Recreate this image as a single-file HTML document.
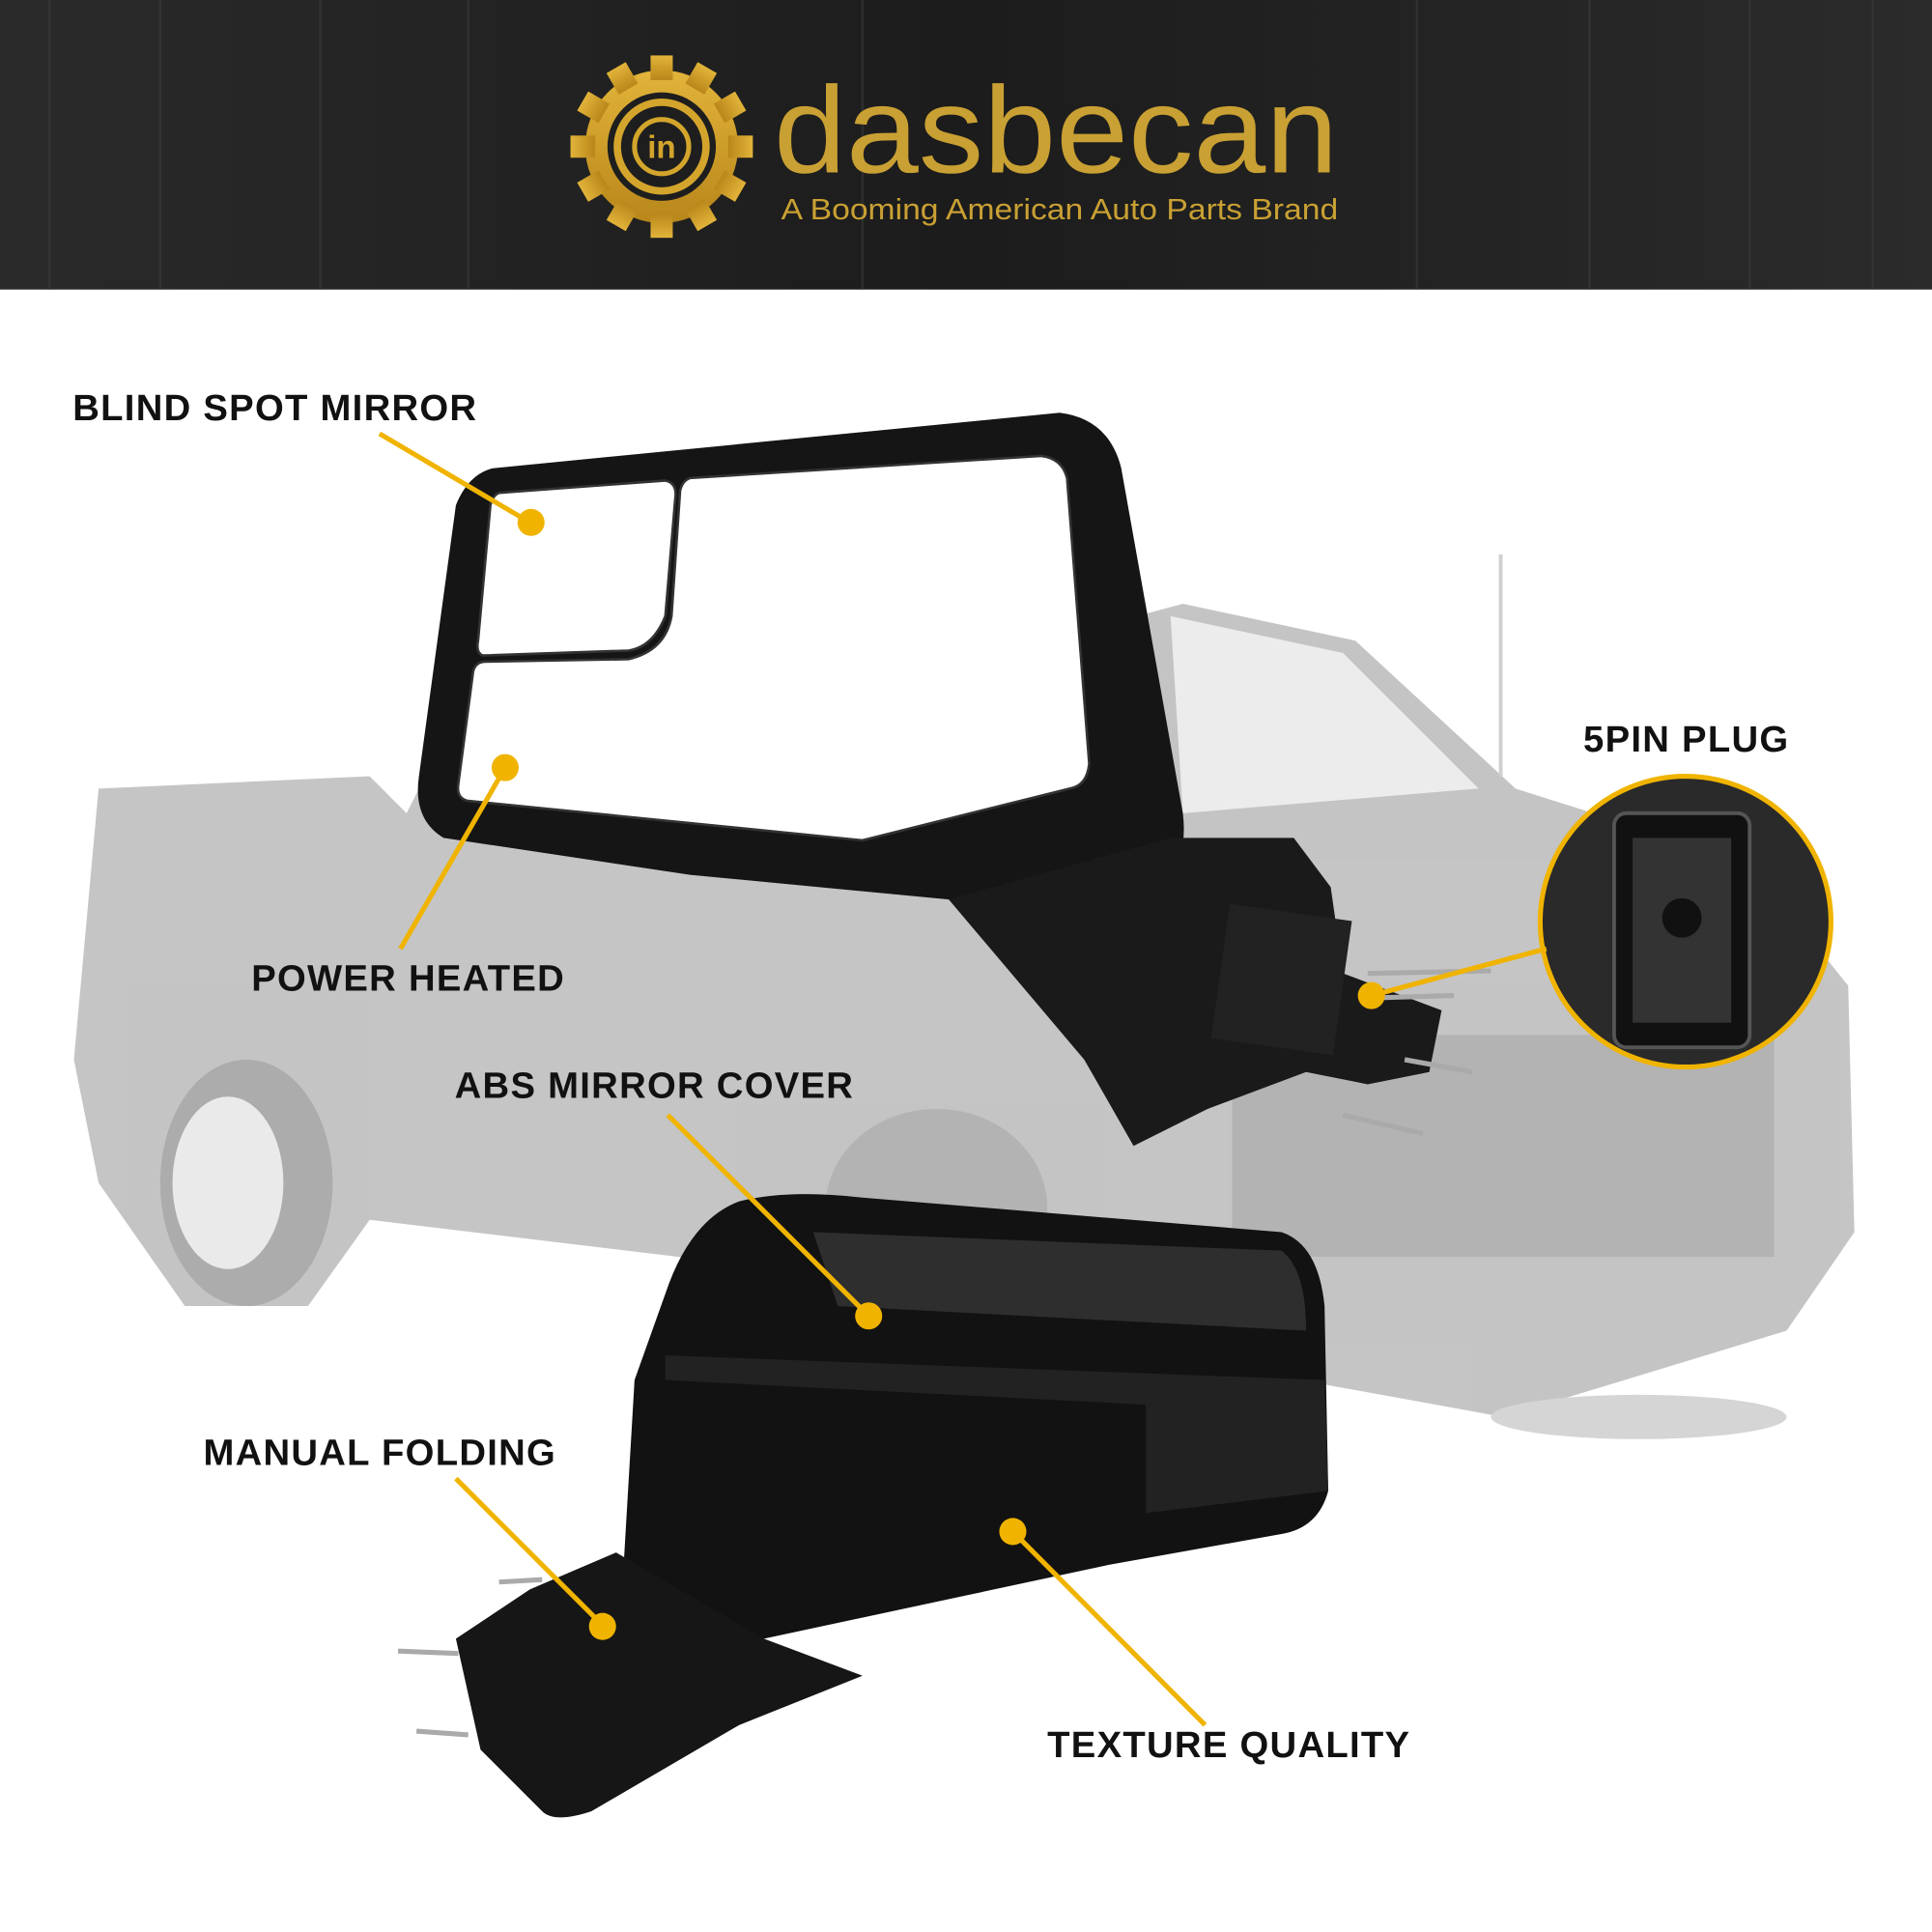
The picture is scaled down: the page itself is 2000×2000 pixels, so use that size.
<!DOCTYPE html>
<html><head><meta charset="utf-8"><style>
html,body{margin:0;padding:0;background:#fff;}
svg{display:block;}
text{font-family:"Liberation Sans",sans-serif;}
</style></head><body>
<svg width="2000" height="2000" viewBox="0 0 1568 1568" xmlns="http://www.w3.org/2000/svg">
<defs>
<linearGradient id="hdr" x1="0" y1="0" x2="1" y2="0">
<stop offset="0" stop-color="#2a2a2a"/><stop offset="0.5" stop-color="#1c1c1c"/><stop offset="1" stop-color="#2b2b2b"/>
</linearGradient>
<linearGradient id="gold" x1="0" y1="0" x2="0" y2="1">
<stop offset="0" stop-color="#e2b43a"/><stop offset="1" stop-color="#b8861a"/>
</linearGradient>
</defs>
<rect width="1568" height="1568" fill="#fff"/>
<rect x="0" y="0" width="1568" height="235" fill="url(#hdr)"/>
<g stroke="#3a3a3a" stroke-width="2" opacity="0.6">
<line x1="40" y1="0" x2="40" y2="235"/><line x1="130" y1="0" x2="130" y2="235"/><line x1="260" y1="0" x2="260" y2="235"/>
<line x1="380" y1="0" x2="380" y2="235"/><line x1="700" y1="0" x2="700" y2="235"/><line x1="1150" y1="0" x2="1150" y2="235"/>
<line x1="1290" y1="0" x2="1290" y2="235"/><line x1="1420" y1="0" x2="1420" y2="235"/><line x1="1520" y1="0" x2="1520" y2="235"/>
</g>
<g transform="translate(537,119)">
<circle r="62" fill="url(#gold)"/>
<g fill="url(#gold)">
<rect x="-9" y="-74" width="18" height="20"/><rect x="-9" y="-74" width="18" height="20" transform="rotate(30)"/>
<rect x="-9" y="-74" width="18" height="20" transform="rotate(60)"/><rect x="-9" y="-74" width="18" height="20" transform="rotate(90)"/>
<rect x="-9" y="-74" width="18" height="20" transform="rotate(120)"/><rect x="-9" y="-74" width="18" height="20" transform="rotate(150)"/>
<rect x="-9" y="-74" width="18" height="20" transform="rotate(180)"/><rect x="-9" y="-74" width="18" height="20" transform="rotate(210)"/>
<rect x="-9" y="-74" width="18" height="20" transform="rotate(240)"/><rect x="-9" y="-74" width="18" height="20" transform="rotate(270)"/>
<rect x="-9" y="-74" width="18" height="20" transform="rotate(300)"/><rect x="-9" y="-74" width="18" height="20" transform="rotate(330)"/>
</g>
<circle r="44" fill="#1e1e1e"/>
<circle r="36" fill="none" stroke="#d4a52c" stroke-width="6"/>
<circle r="22" fill="none" stroke="#d4a52c" stroke-width="4"/>
<text x="0" y="9" text-anchor="middle" font-size="26" font-weight="bold" fill="#d4a52c">in</text>
</g>
<text x="628" y="140" font-size="100" fill="#c9a033" textLength="458" lengthAdjust="spacingAndGlyphs">dasbecan</text>
<text x="634" y="178" font-size="24" fill="#c9a033" textLength="452" lengthAdjust="spacingAndGlyphs">A Booming American Auto Parts Brand</text>

<g opacity="0.4">
<path d="M80 640 L300 630 L330 660 L380 560 L700 560 L960 490 L1100 520 L1230 640 L1420 700 L1500 800 L1505 1000 L1450 1080 L1220 1150 L1000 1110 L760 1050 L550 1020 L300 990 L250 1060 L150 1060 L80 960 L60 860 Z" fill="#6e6e6e"/>
<path d="M950 500 L1090 530 L1200 640 L960 660 Z" fill="#d0d0d0"/>
<ellipse cx="200" cy="960" rx="70" ry="100" fill="#333"/>
<ellipse cx="185" cy="960" rx="45" ry="70" fill="#ccc"/>
<ellipse cx="760" cy="980" rx="90" ry="80" fill="#444"/>
<rect x="1000" y="840" width="440" height="180" fill="#444"/>
<line x1="1218" y1="450" x2="1218" y2="630" stroke="#888" stroke-width="3"/>
<ellipse cx="1330" cy="1150" rx="120" ry="18" fill="#999"/>
</g>

<path d="M400 380 L860 335 Q900 340 910 380 L960 660 Q965 700 940 720 L770 730 L560 710 L360 680 Q335 665 340 630 L370 410 Q380 385 400 380 Z" fill="#151515"/>
<path d="M405 400 L540 390 Q550 392 548 405 L540 500 Q530 525 510 528 L392 532 Q386 530 388 520 L398 410 Q400 402 405 400 Z" fill="#fff" stroke="#333" stroke-width="2"/>
<path d="M560 388 L845 370 Q862 372 866 388 L884 620 Q882 638 868 640 L700 682 L380 650 Q370 648 372 636 L384 545 Q386 537 394 537 L510 535 Q540 528 545 500 L552 398 Q554 390 560 388 Z" fill="#fff" stroke="#333" stroke-width="2"/>
<path d="M770 730 L950 680 L1050 680 L1080 720 L1090 790 L1170 820 L1160 870 L1110 880 L1060 870 L980 900 L920 930 L880 860 Z" fill="#1a1a1a"/>
<rect x="990" y="740" width="100" height="110" fill="#222" transform="rotate(8 1040 795)"/>
<g stroke="#aaa" stroke-width="4">
<line x1="1110" y1="790" x2="1210" y2="788"/><line x1="1110" y1="810" x2="1180" y2="808"/>
<line x1="1140" y1="860" x2="1195" y2="870"/><line x1="1090" y1="905" x2="1155" y2="920"/>
</g>

<circle cx="1368" cy="748" r="118" fill="#2a2a2a" stroke="#f0b400" stroke-width="4"/>
<rect x="1310" y="660" width="110" height="190" rx="10" fill="#111" stroke="#555" stroke-width="3"/>
<rect x="1325" y="680" width="80" height="150" fill="#333"/>
<circle cx="1365" cy="745" r="16" fill="#111"/>

<path d="M600 975 Q640 965 700 972 L1040 1000 Q1070 1010 1075 1060 L1078 1210 Q1070 1240 1040 1245 L900 1270 L620 1330 L540 1340 Q510 1330 505 1290 L515 1120 L540 1050 Q560 990 600 975 Z" fill="#121212"/>
<path d="M660 1000 L1040 1015 Q1060 1030 1060 1080 L680 1060 Z" fill="#3a3a3a" opacity="0.7"/>
<path d="M540 1100 L1075 1120 L1078 1210 L930 1228 L930 1140 L540 1120 Z" fill="#222"/>
<path d="M500 1260 L620 1330 L700 1360 L600 1400 L480 1470 Q450 1480 440 1470 L390 1420 L370 1330 L430 1290 Z" fill="#161616"/>
<g stroke="#aaa" stroke-width="4">
<line x1="405" y1="1284" x2="440" y2="1282"/><line x1="323" y1="1340" x2="372" y2="1342"/><line x1="338" y1="1405" x2="380" y2="1408"/>
</g>

<g stroke="#f0b400" stroke-width="4" fill="none">
<line x1="308" y1="352" x2="430" y2="424"/>
<line x1="410" y1="623" x2="325" y2="770"/>
<line x1="542" y1="905" x2="705" y2="1068"/>
<line x1="1113" y1="808" x2="1255" y2="770"/>
<line x1="370" y1="1200" x2="490" y2="1320"/>
<line x1="822" y1="1243" x2="978" y2="1400"/>
</g>
<g fill="#f0b400">
<circle cx="431" cy="424" r="11"/><circle cx="410" cy="623" r="11"/><circle cx="705" cy="1068" r="11"/>
<circle cx="1113" cy="808" r="11"/><circle cx="489" cy="1320" r="11"/><circle cx="822" cy="1243" r="11"/>
</g>
<g font-size="30" font-weight="bold" fill="#111" letter-spacing="1">
<text x="59" y="341">BLIND SPOT MIRROR</text>
<text x="204" y="804">POWER HEATED</text>
<text x="369" y="891">ABS MIRROR COVER</text>
<text x="1285" y="610">5PIN PLUG</text>
<text x="165" y="1189">MANUAL FOLDING</text>
<text x="850" y="1426">TEXTURE QUALITY</text>
</g>
</svg>
</body></html>
